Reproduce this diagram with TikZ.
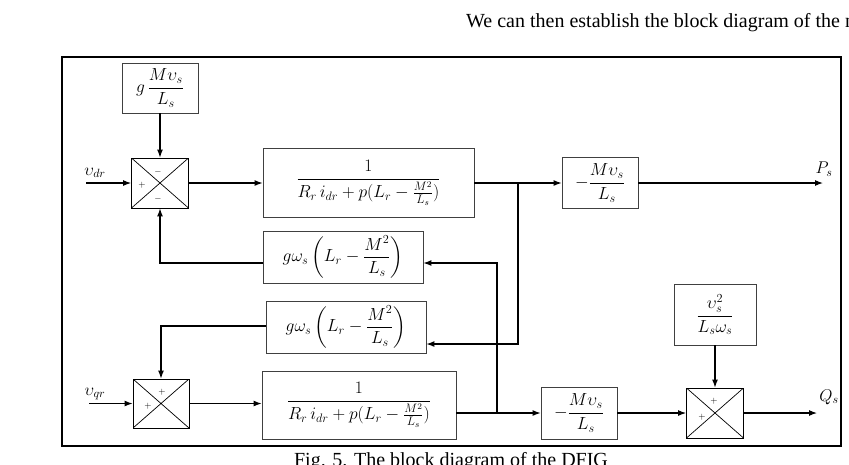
\RequirePackage{fix-cm}
\documentclass[tikz,border=0pt]{standalone}
\usepackage{amsmath}
\usepackage[no-math]{fontspec}
\setmainfont{Liberation Serif}
\usetikzlibrary{arrows.meta,calc}
\begin{document}
\begin{tikzpicture}[x=1pt,y=-1pt,
  blk/.style={draw=black!75, line width=0.9pt, fill=white, inner sep=0pt, font=\fontsize{17.5}{19}\selectfont},
  sumj/.style={draw=black, line width=0.9pt, minimum width=57pt, minimum height=50pt, inner sep=0pt,
    path picture={\draw[line width=0.7pt] (path picture bounding box.north west) -- (path picture bounding box.south east)
      (path picture bounding box.south west) -- (path picture bounding box.north east);}},
  sig/.style={inner sep=0pt, font=\fontsize{9}{9}\selectfont},
  con/.style={line width=1.1pt, -{Latex[length=8pt,width=6pt]}},
  wire/.style={line width=1.1pt},
  lbl/.style={inner sep=0pt, font=\fontsize{17}{19}\selectfont},
  txt/.style={inner sep=0pt, font=\fontsize{20}{22}\selectfont}
]
\useasboundingbox (0,0) rectangle (849,464);
\clip (0,0) rectangle (849,464);

\node[txt, anchor=base west] (top) at (466,27) {We can then establish the block diagram of the m};
\node[txt, anchor=base] (cap) at (451,466) {Fig. 5. The block diagram of the DFIG};

\draw[line width=1.6pt] (62,57) rectangle (841,446);

% blocks
\node[blk, minimum width=76pt, minimum height=50pt] (gM) at (160,88) {$g\,\dfrac{M\upsilon_s}{L_s}$};
\node[sumj] (s1) at (160,183) {};
\node[blk, minimum width=211pt, minimum height=69pt] (B1) at (368.5,183) {$\dfrac{1}{R_r\,i_{dr}+p(L_r-\frac{M^2}{L_s})}$};
\node[blk, minimum width=76pt, minimum height=51pt] (K1) at (600,183) {$-\dfrac{M\upsilon_s}{L_s}$};
\node[blk, minimum width=160pt, minimum height=52pt] (G1) at (343,257) {$g\omega_s\left(L_r-\dfrac{M^2}{L_s}\right)$};
\node[blk, minimum width=160pt, minimum height=52pt] (G2) at (346,327) {$g\omega_s\left(L_r-\dfrac{M^2}{L_s}\right)$};
\node[sumj, minimum width=56pt, minimum height=49pt] (s2) at (161,403.5) {};
\node[blk, minimum width=194pt, minimum height=68pt] (B2) at (359,405) {$\dfrac{1}{R_r\,i_{dr}+p(L_r-\frac{M^2}{L_s})}$};
\node[blk, minimum width=76pt, minimum height=52pt] (K2) at (579,413) {$-\dfrac{M\upsilon_s}{L_s}$};
\node[sumj] (s3) at (715,413) {};
\node[blk, minimum width=82pt, minimum height=61pt] (V) at (715,314.5) {$\dfrac{\upsilon_s^2}{L_s\omega_s}$};

% signs
\node[sig] (s1t) at ($(s1)+(-2,-11)$) {$-$};
\node[sig] (s1l) at ($(s1)+(-18,2)$) {$+$};
\node[sig] (s1b) at ($(s1)+(-2,16)$) {$-$};
\node[sig] (s2t) at ($(s2)+(1,-11)$) {$+$};
\node[sig] (s2l) at ($(s2)+(-13,3)$) {$+$};
\node[sig] (s3t) at ($(s3)+(-1,-12)$) {$+$};
\node[sig] (s3l) at ($(s3)+(-13,4)$) {$+$};

% labels and free ends
\node[lbl] (vdr) at (95,173) {$\upsilon_{dr}$};
\node[lbl] (vqr) at (95,394) {$\upsilon_{qr}$};
\node[lbl] (Ps) at (824,169) {$P_s$};
\node[lbl] (Qs) at (829,397) {$Q_s$};
\coordinate (in1) at (86,183);
\coordinate (in2) at (89,403.5);
\coordinate (b1) at (518,183);
\coordinate (b2) at (497,413);
\coordinate (ps) at (823,183);
\coordinate (qs) at (817,413);

% connectors
\draw[con] (in1) -- (s1.west);
\draw[con] (gM.south) -- (s1.north);
\draw[con] (s1.east) -- (B1.west);
\draw[wire] (B1.east) -- (b1);
\draw[con] (b1) -- (K1.west);
\draw[con] (K1.east) -- (ps);
\draw[con] (b1) |- ($(G2.east)+(0,17)$);
\draw[con] (b2) |- ($(G1.east)+(0,6)$);
\draw[con] ($(G1.west)+(0,6)$) -| (s1.south);
\draw[con] ($(G2.west)+(0,-1)$) -| (s2.north);
\draw[con] (in2) -- (s2.west);
\draw[con] (s2.east) -- (s2.east -| B2.west);
\draw[wire] (B2.east |- K2.west) -- (b2);
\draw[con] (b2) -- (K2.west);
\draw[con] (K2.east) -- (s3.west);
\draw[con] (V.south) -- (s3.north);
\draw[con] (s3.east) -- (qs);
\end{tikzpicture}
\end{document}
